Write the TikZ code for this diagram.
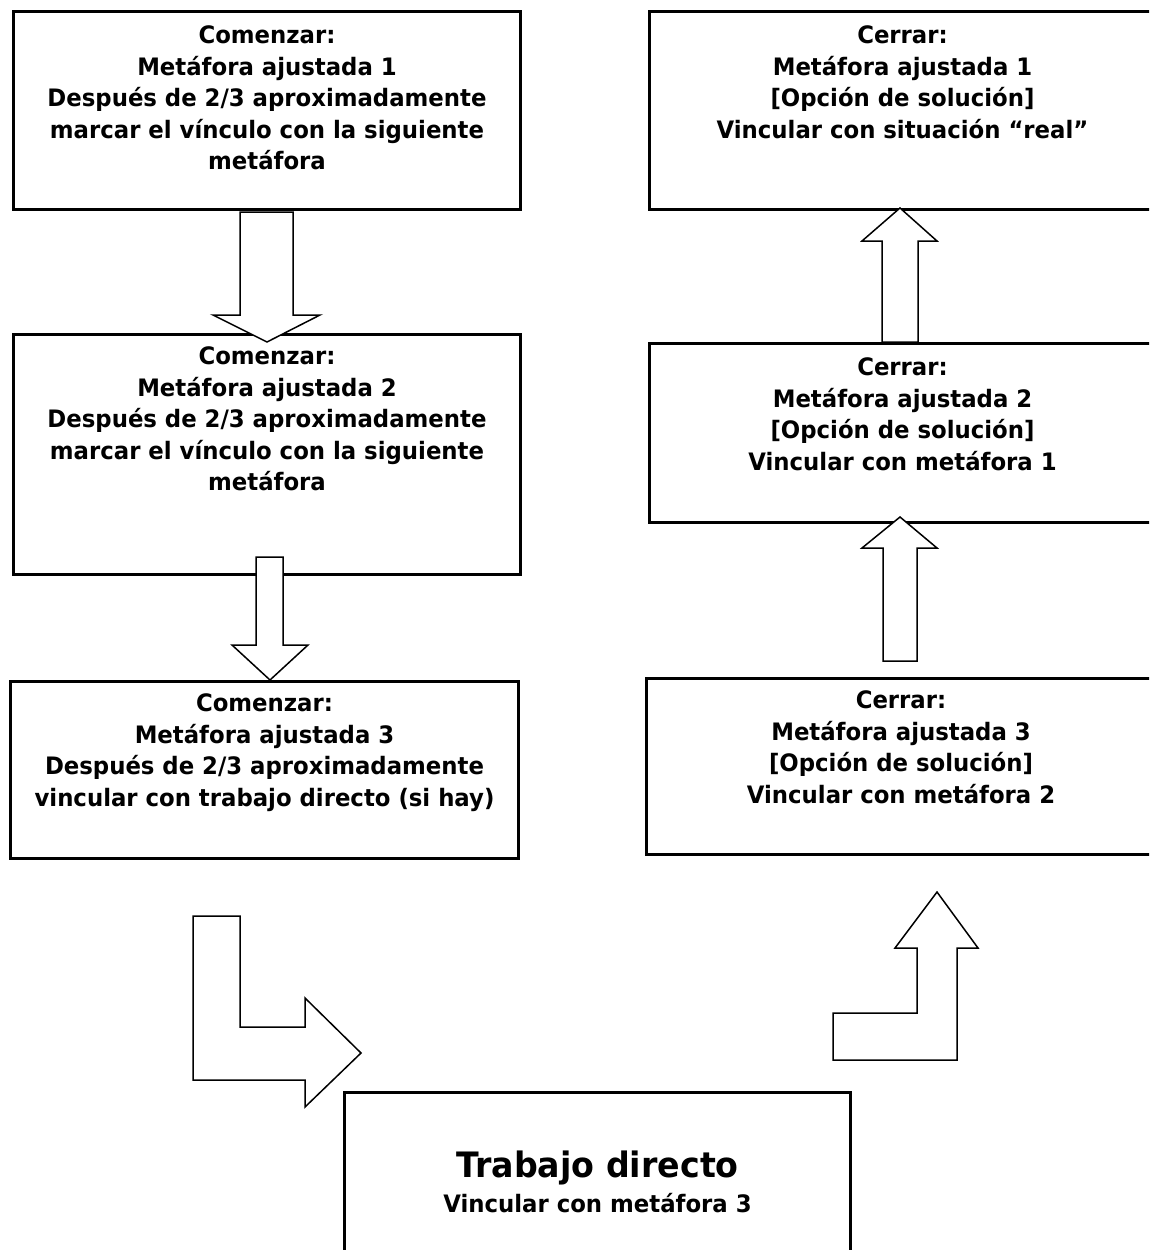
\documentclass[tikz,border=0pt]{standalone}
\usepackage{fontspec}
\setmainfont{DejaVu Sans}[FakeStretch=0.95]
\begin{document}
\begin{tikzpicture}[x=1pt,y=-1pt,
  box/.style={draw,line width=3pt,rectangle,inner sep=0pt,anchor=north west},
  txt/.style={anchor=north,inner sep=0pt,align=center,font=\fontsize{24}{31.6}\selectfont\bfseries},
  blockarrow/.style={draw,line width=1.5pt,fill=white,line join=miter}]
\useasboundingbox (0,0) rectangle (1149,1250);
\begin{scope}
\clip (0,0) rectangle (1149,1250);
% boxes
\node[box,minimum width=507pt,minimum height=198pt] (L1) at (12,10) {};
\node[box,minimum width=507pt,minimum height=240pt] (L2) at (12,333) {};
\node[box,minimum width=508pt,minimum height=177pt] (L3) at (9,680) {};
\node[box,minimum width=506pt,minimum height=198pt] (R1) at (648,10) {};
\node[box,minimum width=506pt,minimum height=179pt] (R2) at (648,342) {};
\node[box,minimum width=509pt,minimum height=176pt] (R3) at (645,677) {};
\node[box,minimum width=506pt,minimum height=180pt] (B) at (343,1091) {};
% texts
\node[txt] (tL1) at ([yshift=-15.5pt]L1.north) {Comenzar:\\Metáfora ajustada 1\\Después de 2/3 aproximadamente\\marcar el vínculo con la siguiente\\metáfora};
\node[txt] (tL2) at ([yshift=-13.5pt]L2.north) {Comenzar:\\Metáfora ajustada 2\\Después de 2/3 aproximadamente\\marcar el vínculo con la siguiente\\metáfora};
\node[txt] (tL3) at ([yshift=-13.5pt]L3.north) {Comenzar:\\Metáfora ajustada 3\\Después de 2/3 aproximadamente\\vincular con trabajo directo (si hay)};
\node[txt] (tR1) at ([yshift=-15.5pt]R1.north) {Cerrar:\\Metáfora ajustada 1\\[0pt][Opción de solución]\\Vincular con situación “real”};
\node[txt] (tR2) at ([yshift=-15.5pt]R2.north) {Cerrar:\\Metáfora ajustada 2\\[0pt][Opción de solución]\\Vincular con metáfora 1};
\node[txt] (tR3) at ([yshift=-13.5pt]R3.north) {Cerrar:\\Metáfora ajustada 3\\[0pt][Opción de solución]\\Vincular con metáfora 2};
\node[anchor=base,inner sep=0pt,font=\fontsize{35}{40}\selectfont\bfseries] (tB) at ([yshift=-86pt]B.north) {Trabajo directo};
\node[anchor=base,inner sep=0pt,font=\fontsize{24}{30}\selectfont\bfseries] (tB2) at ([yshift=-121pt]B.north) {Vincular con metáfora 3};
\end{scope}
% block arrows
\draw[blockarrow] (240,212) -- (293,212) -- (293,315) -- (320,315) -- (267,342) -- (213,315) -- (240,315) -- cycle;
\draw[blockarrow] (256,557) -- (283,557) -- (283,645) -- (308,645) -- (270,680) -- (232,645) -- (256,645) -- cycle;
\draw[blockarrow] (900,208) -- (937,241) -- (918,241) -- (918,342) -- (882,342) -- (882,241) -- (862,241) -- cycle;
\draw[blockarrow] (900,517) -- (937,548) -- (917,548) -- (917,661) -- (883,661) -- (883,548) -- (862,548) -- cycle;
\draw[blockarrow] (193,916) -- (240,916) -- (240,1027) -- (305,1027) -- (305,998) -- (361,1053) -- (305,1107) -- (305,1080) -- (193,1080) -- cycle;
\draw[blockarrow] (937,892) -- (978,948) -- (957,948) -- (957,1060) -- (833,1060) -- (833,1013) -- (917,1013) -- (917,948) -- (895,948) -- cycle;
\end{tikzpicture}
\end{document}
